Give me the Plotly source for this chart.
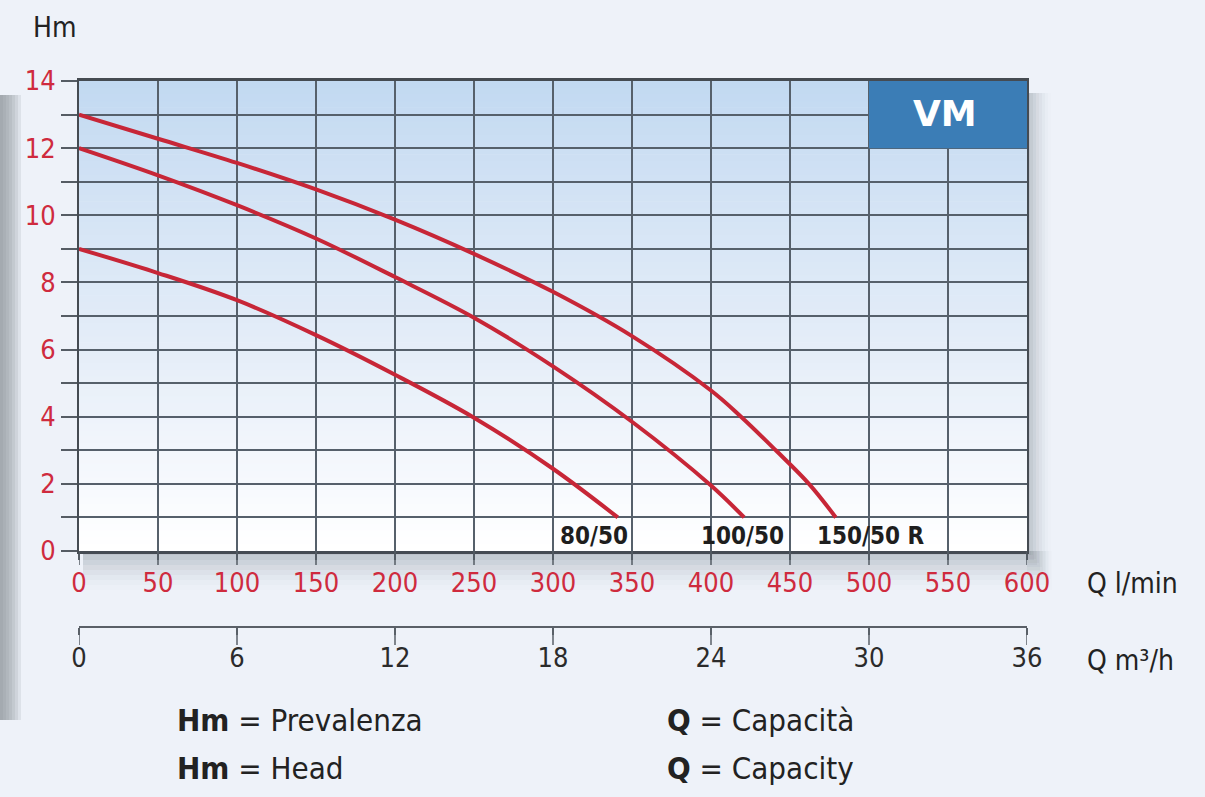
import plotly.graph_objects as go

# ---- data ----
q_80_50 = [0, 50, 100, 150, 200, 250, 300, 341]
h_80_50 = [9.0, 8.28, 7.47, 6.43, 5.25, 3.97, 2.45, 1.0]

q_100_50 = [0, 50, 100, 150, 200, 250, 300, 350, 400, 421]
h_100_50 = [12.0, 11.19, 10.30, 9.31, 8.16, 6.95, 5.50, 3.85, 1.95, 1.0]

q_150_50r = [0, 50, 100, 150, 200, 250, 300, 350, 400, 419, 441, 462, 479]
h_150_50r = [13.0, 12.28, 11.56, 10.77, 9.87, 8.85, 7.72, 6.40, 4.78, 4.0, 3.0, 2.0, 1.0]

series_names = ["80/50", "100/50", "150/50 R"]
label_q = [326, 420, 501]
label_h = [0.44, 0.44, 0.44]

y_tickvals = list(range(0, 15))
y_ticktext = [str(v) if v % 2 == 0 else "" for v in y_tickvals]
x_lmin_ticks = list(range(0, 601, 50))
x_m3h_ticks = list(range(0, 37, 6))

# ---- styling ----
W, H = 1205, 797
ML, MR, MT, MB = 79, 178, 81, 170
PW, PH = W - ML - MR, H - MT - MB
PLOT_BOTTOM_PX = 551
ydom0 = (H - MB - PLOT_BOTTOM_PX) / PH

FONT = "DejaVu Sans Condensed, Liberation Sans Narrow, Arial Narrow, sans-serif"
RED = "#cf2b3e"
CURVE = "#c72637"
GRID = "#56606b"
TXT = "#222222"

def px_x(px):
    return (px - ML) / PW

def px_y(py):
    return (H - MB - py) / PH

fig = go.Figure()

for q, h, name in zip([q_80_50, q_100_50, q_150_50r],
                      [h_80_50, h_100_50, h_150_50r], series_names):
    fig.add_trace(go.Scatter(x=q, y=h, mode="lines", name=name,
                             line=dict(color=CURVE, width=4, shape="spline", smoothing=1.0),
                             hoverinfo="x+y+name"))

# invisible trace to activate the m3/h axis
fig.add_trace(go.Scatter(x=[0, 36], y=[None, None], xaxis="x2", yaxis="y",
                         mode="markers", showlegend=False, hoverinfo="skip"))

shapes = []
# vertical gradient background inside the plot (below gridlines)
def lerp(c1, c2, t):
    a = [int(c1[i:i + 2], 16) for i in (1, 3, 5)]
    b = [int(c2[i:i + 2], 16) for i in (1, 3, 5)]
    return "#%02x%02x%02x" % tuple(round(a[k] + (b[k] - a[k]) * t) for k in range(3))

stops = [(0.0, "#ffffff"), (1.5, "#f9fbfe"), (5.0, "#e9f0f9"), (10.0, "#d5e4f5"), (14.0, "#c2d9f1")]
nstep = 70
for i in range(nstep):
    y0 = 14 * i / nstep
    y1 = 14 * (i + 1) / nstep
    ym = (y0 + y1) / 2
    col = stops[-1][1]
    for j in range(len(stops) - 1):
        if stops[j][0] <= ym <= stops[j + 1][0]:
            t = (ym - stops[j][0]) / (stops[j + 1][0] - stops[j][0])
            col = lerp(stops[j][1], stops[j + 1][1], t)
            break
    shapes.append(dict(type="rect", xref="x", yref="y", x0=0, x1=600, y0=y0, y1=y1 + 0.02,
                       fillcolor=col, line=dict(width=0), layer="below"))

# drop shadow below and right of plot
for k in range(8):
    op = 0.11 * (1 - k / 8)
    shapes.append(dict(type="rect", xref="paper", yref="paper",
                       x0=px_x(ML + 4), x1=px_x(1027 + 4 + 3 * k),
                       y0=px_y(PLOT_BOTTOM_PX + 4 + 5 * k), y1=px_y(PLOT_BOTTOM_PX),
                       fillcolor="#7d8590", opacity=op, line=dict(width=0), layer="below"))
    shapes.append(dict(type="rect", xref="paper", yref="paper",
                       x0=px_x(1027), x1=px_x(1027 + 3 + 3 * k),
                       y0=px_y(PLOT_BOTTOM_PX + 4 * k), y1=px_y(MT + 12),
                       fillcolor="#7d8590", opacity=op, line=dict(width=0), layer="below"))

# left edge dark strip
for k in range(7):
    shapes.append(dict(type="rect", xref="paper", yref="paper",
                       x0=px_x(0), x1=px_x(3 + 3 * k),
                       y0=px_y(720), y1=px_y(95),
                       fillcolor="#878d96", opacity=0.16, line=dict(width=0), layer="below"))

# tick marks (longer than the native ones so the labels can sit close)
for v in x_lmin_ticks:
    shapes.append(dict(type="line", xref="x", yref="paper", x0=v, x1=v,
                       y0=px_y(PLOT_BOTTOM_PX), y1=px_y(PLOT_BOTTOM_PX + 14),
                       line=dict(color="#555c64", width=1.5), layer="above"))
for v in x_m3h_ticks:
    shapes.append(dict(type="line", xref="x2", yref="paper", x0=v, x1=v,
                       y0=0, y1=px_y(H - MB + 18),
                       line=dict(color="#5a6068", width=1.5), layer="above"))

# VM box
shapes.append(dict(type="rect", xref="x", yref="y", x0=500, x1=600, y0=12, y1=14,
                   fillcolor="#3b7db6", line=dict(width=0), layer="above"))

def pann(x, y, text, size, xanchor="left", color=TXT):
    return dict(x=px_x(x), y=px_y(y), xref="paper", yref="paper", text=text,
                xanchor=xanchor, yanchor="middle", showarrow=False,
                font=dict(family=FONT, size=size, color=color))

annotations = [
    dict(x=548, y=13.02, xref="x", yref="y", text="<b>VM</b>", showarrow=False,
         xanchor="center", yanchor="middle",
         font=dict(family="DejaVu Sans, Liberation Sans, Arial, sans-serif", size=36, color="white")),
    pann(55, 28, "Hm", 28, xanchor="center"),
    pann(1085, 583, "Q l/min", 28),
    pann(1085, 660, "Q m³/h", 28),
    pann(175, 720, "<b>Hm</b> = Prevalenza", 31),
    pann(175, 768, "<b>Hm</b> = Head", 31),
    pann(665, 720, "<b>Q</b> = Capacità", 31),
    pann(665, 768, "<b>Q</b> = Capacity", 31),
]
for name, qx, hy in zip(series_names, label_q, label_h):
    annotations.append(dict(x=qx, y=hy, xref="x", yref="y", text="<b>%s</b>" % name,
                            showarrow=False, xanchor="center", yanchor="middle",
                            font=dict(family=FONT, size=24, color="#1e1e1e")))

fig.update_layout(
    width=W, height=H,
    margin=dict(l=ML, r=MR, t=MT, b=MB, pad=0),
    paper_bgcolor="#eef2f9",
    plot_bgcolor="#ffffff",
    showlegend=False,
    shapes=shapes,
    annotations=annotations,
    xaxis=dict(range=[0, 600], tickvals=x_lmin_ticks, showgrid=True, gridcolor=GRID, gridwidth=1.5,
               zeroline=False, showline=True, linecolor="#454b52", linewidth=2.5, mirror=True,
               ticks="outside", ticklen=6, tickwidth=1.5, tickcolor="#555c64",
               tickfont=dict(family=FONT, size=27, color=RED), anchor="y", fixedrange=True),
    xaxis2=dict(range=[0, 36], tickvals=x_m3h_ticks, overlaying="x", anchor="free", position=0,
                side="bottom", showgrid=False, zeroline=False, showline=True,
                linecolor="#5a6068", linewidth=2, ticks="outside", ticklen=7, tickwidth=1.5,
                tickcolor="#5a6068", tickfont=dict(family=FONT, size=27, color="#2b2b2b"),
                fixedrange=True),
    yaxis=dict(range=[0, 14], domain=[ydom0, 1], tickvals=y_tickvals, ticktext=y_ticktext,
               showgrid=True, gridcolor=GRID, gridwidth=1.5, zeroline=False, showline=True,
               linecolor="#454b52", linewidth=2, mirror=True, ticks="outside", ticklen=16,
               tickwidth=1.5, tickcolor="#555c64",
               tickfont=dict(family=FONT, size=27, color=RED), fixedrange=True),
)

fig.write_html("out.html", config={"displayModeBar": False},
               post_script="document.body.style.margin='0';document.body.style.background='#eef2f9';")
